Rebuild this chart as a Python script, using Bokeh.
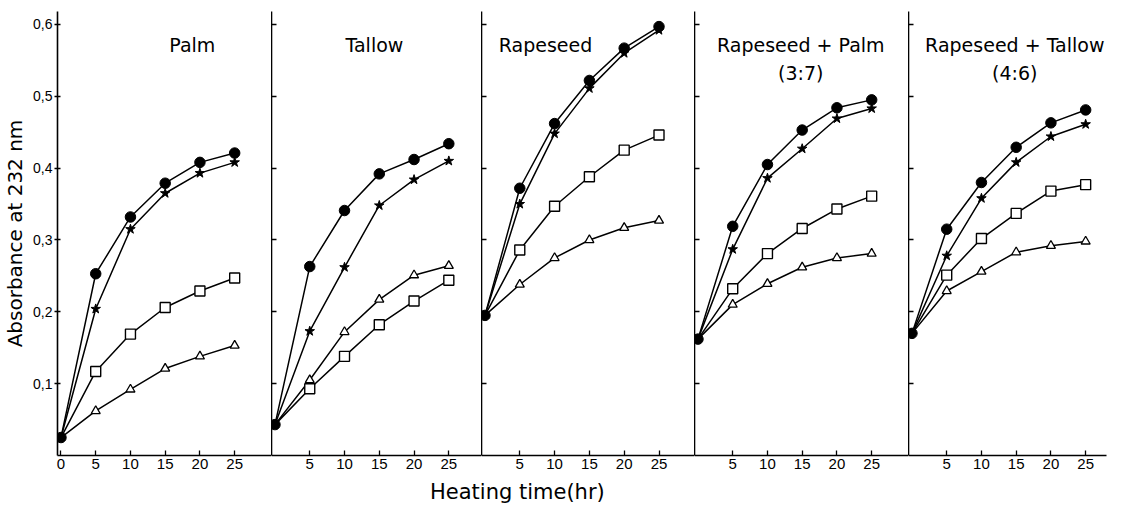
from bokeh.plotting import figure
from bokeh.layouts import row, column
from bokeh.models import Label, FixedTicker, Div
from bokeh.embed import file_html
from bokeh.resources import INLINE

# ---------------- data (absorbance at 232 nm) ----------------
hours = [0, 5, 10, 15, 20, 25]

palm_dot = [0.025, 0.253, 0.332, 0.379, 0.408, 0.421]
palm_star = [0.025, 0.204, 0.315, 0.365, 0.393, 0.408]
palm_square = [0.025, 0.117, 0.169, 0.206, 0.229, 0.247]
palm_triangle = [0.025, 0.062, 0.092, 0.121, 0.138, 0.153]

tallow_dot = [0.043, 0.263, 0.341, 0.392, 0.412, 0.434]
tallow_star = [0.043, 0.173, 0.262, 0.348, 0.384, 0.410]
tallow_square = [0.043, 0.093, 0.138, 0.182, 0.215, 0.244]
tallow_triangle = [0.043, 0.105, 0.172, 0.217, 0.251, 0.264]

rape_dot = [0.195, 0.372, 0.462, 0.522, 0.567, 0.597]
rape_star = [0.195, 0.350, 0.448, 0.511, 0.560, 0.592]
rape_square = [0.195, 0.286, 0.347, 0.388, 0.425, 0.446]
rape_triangle = [0.195, 0.238, 0.275, 0.300, 0.317, 0.327]

rp_dot = [0.162, 0.319, 0.405, 0.453, 0.484, 0.495]
rp_star = [0.162, 0.287, 0.386, 0.427, 0.469, 0.483]
rp_square = [0.162, 0.232, 0.281, 0.316, 0.343, 0.361]
rp_triangle = [0.162, 0.210, 0.239, 0.262, 0.275, 0.281]

rt_dot = [0.170, 0.315, 0.380, 0.429, 0.463, 0.481]
rt_star = [0.170, 0.278, 0.358, 0.408, 0.444, 0.461]
rt_square = [0.170, 0.251, 0.302, 0.337, 0.368, 0.377]
rt_triangle = [0.170, 0.229, 0.256, 0.283, 0.292, 0.298]

panel_titles = [["Palm"], ["Tallow"], ["Rapeseed"],
                ["Rapeseed + Palm", "(3:7)"], ["Rapeseed + Tallow", "(4:6)"]]
y_ticks = [0.1, 0.2, 0.3, 0.4, 0.5, 0.6]
y_tick_labels = ["0,1", "0,2", "0,3", "0,4", "0,5", "0,6"]
x_ticks_first = [0, 5, 10, 15, 20, 25]
x_ticks_other = [5, 10, 15, 20, 25]
y_label = "Absorbance at 232 nm"
x_label = "Heating time(hr)"

# ---------------- layout / style ----------------
FONT = "DejaVu Sans"
TICKFONT = "Liberation Sans"
frame_widths = [214, 210, 213, 214, 198]
x_ends = [30.3, 29.7, 30.1, 30.3, 28.0]
title_x = [18.9, 14.3, 8.7, 14.8, 14.8]
title_y = [0.572, 0.533]

series_sets = [
    (palm_dot, palm_star, palm_square, palm_triangle),
    (tallow_dot, tallow_star, tallow_square, tallow_triangle),
    (rape_dot, rape_star, rape_square, rape_triangle),
    (rp_dot, rp_star, rp_square, rp_triangle),
    (rt_dot, rt_star, rt_square, rt_triangle),
]

figs = []
for i in range(5):
    p = figure(frame_width=frame_widths[i], frame_height=444,
               x_range=(-0.5, x_ends[i]), y_range=(0, 0.618),
               output_backend="svg", toolbar_location=None,
               min_border_left=50 if i == 0 else 0,
               min_border_right=14 if i == 4 else 0,
               min_border_top=11, min_border_bottom=24)
    p.grid.visible = False
    p.outline_line_color = None
    p.background_fill_color = "white"
    p.border_fill_color = "white"

    xa = p.xaxis[0]
    xa.ticker = FixedTicker(ticks=x_ticks_first if i == 0 else x_ticks_other)
    xa.axis_line_color = "black"
    xa.axis_line_width = 1.6
    xa.major_tick_line_color = "black"
    xa.major_tick_line_width = 1.3
    xa.major_tick_in = 5
    xa.major_tick_out = 0
    xa.minor_tick_line_color = None
    xa.major_label_standoff = 3
    xa.major_label_text_font = TICKFONT
    xa.major_label_text_font_size = "15px"
    xa.major_label_text_color = "black"

    ya = p.yaxis[0]
    ya.ticker = FixedTicker(ticks=y_ticks)
    ya.axis_line_color = "black"
    ya.axis_line_width = 1.6
    ya.major_tick_line_color = "black"
    ya.major_tick_line_width = 1.3
    ya.minor_tick_line_color = None
    if i == 0:
        ya.major_label_overrides = {t: s for t, s in zip(y_ticks, y_tick_labels)}
        ya.major_tick_in = 3
        ya.major_tick_out = 3
        ya.major_label_standoff = 2
        ya.major_label_text_font = TICKFONT
        ya.major_label_text_font_size = "14px"
        ya.major_label_text_color = "black"
        ya.axis_label = y_label
        ya.axis_label_text_font = FONT
        ya.axis_label_text_font_size = "20px"
        ya.axis_label_text_font_style = "normal"
        ya.axis_label_text_color = "black"
        ya.axis_label_standoff = 3
    else:
        ya.major_tick_in = 5
        ya.major_tick_out = 0
        ya.major_label_standoff = 0
        ya.major_label_text_font_size = "0px"
        ya.major_label_text_color = None

    dot, star, square, tri = series_sets[i]
    for vals in (tri, square, star, dot):
        p.line(hours, vals, line_color="black", line_width=1.5)
    # the common starting point at t = 0 is shown by the filled circle only
    p.scatter(hours[1:], tri[1:], marker="triangle", size=9, fill_color="white",
              line_color="black", line_width=1.3)
    p.scatter(hours[1:], square[1:], marker="square", size=10, fill_color="white",
              line_color="black", line_width=1.4)
    p.scatter(hours[1:], star[1:], marker="star", size=10, fill_color="black",
              line_color="black", line_width=1)
    p.scatter(hours, dot, marker="circle", size=10.5, fill_color="black",
              line_color="black", line_width=1)

    for k, t in enumerate(panel_titles[i]):
        p.add_layout(Label(x=title_x[i], y=title_y[k], text=t,
                           text_align="center", text_baseline="middle",
                           text_font=FONT, text_font_size="19px",
                           text_color="black"))
    figs.append(p)

xdiv = Div(text='<div style="padding-top:2px">' + x_label + '</div>',
           width=240, height=14, margin=(0, 0, 0, 430),
           styles={"font-family": FONT, "font-size": "21px",
                   "line-height": "22px", "color": "black",
                   "white-space": "nowrap", "overflow": "visible"})

layout = column(row(*figs, spacing=0), xdiv, spacing=0)

open("out.html", "w").write(file_html(layout, INLINE))
